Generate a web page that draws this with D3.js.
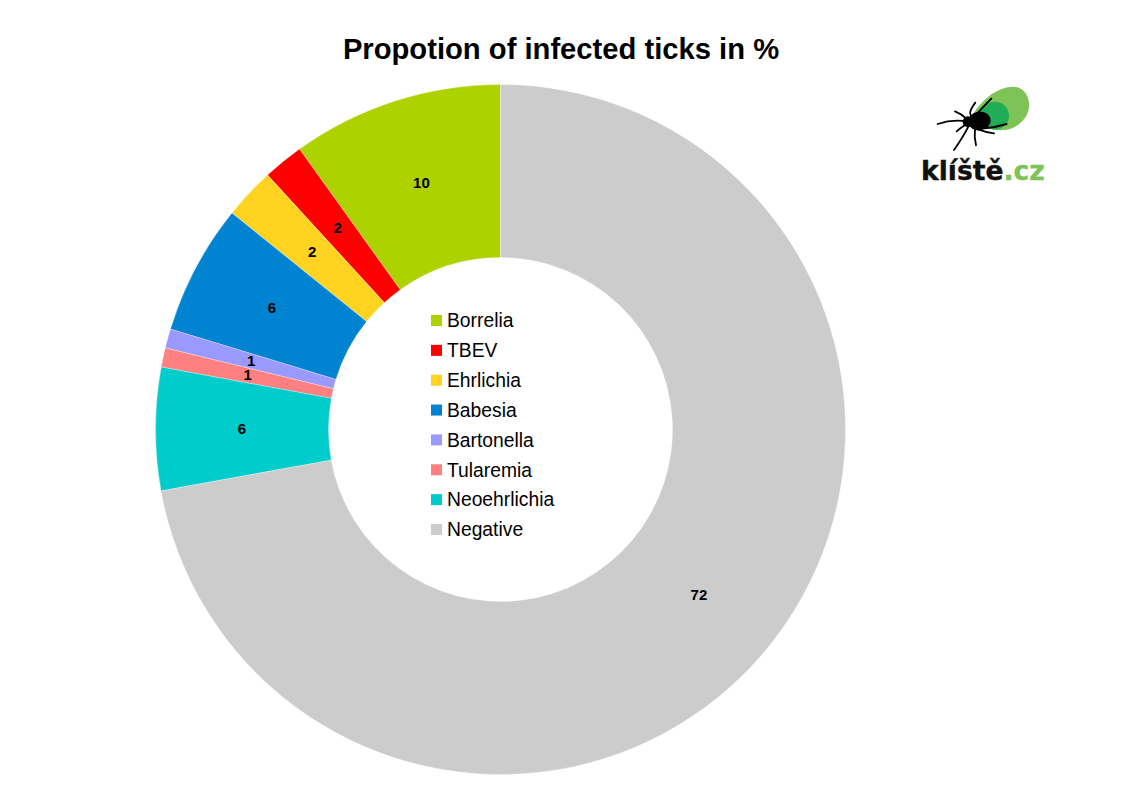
<!DOCTYPE html>
<html>
<head>
<meta charset="utf-8">
<script src="https://cdn.jsdelivr.net/npm/d3@7"></script>
<style>
  html, body { margin: 0; padding: 0; background: #fff; }
  svg { display: block; }
  text { font-family: "Liberation Sans", Arial, sans-serif; }
</style>
</head>
<body>
<div id="chart"></div>
<script>
const title = 'Propotion of infected ticks in %'
const categories = ['Borrelia', 'TBEV', 'Ehrlichia', 'Babesia', 'Bartonella', 'Tularemia', 'Neoehrlichia', 'Negative']
const values = [9.9, 1.9, 2.4, 6.1, 0.9, 0.9, 5.75, 72.15]
const colors = ['#aed100', '#ff0000', '#ffd320', '#0084d1', '#9999ff', '#ff8080', '#00cccc', '#cccccc']

const width = 1123
const height = 794
const centerX = 500.5
const centerY = 429.5
const outerRadius = 345
const innerRadius = 172

const svg = d3.select('#chart').append('svg')
  .attr('width', width)
  .attr('height', height)

svg.append('text')
  .attr('x', 561)
  .attr('y', 58.5)
  .attr('text-anchor', 'middle')
  .attr('font-size', 29.2)
  .attr('font-weight', 'bold')
  .text(title)

// slices run counter clockwise from 12 o'clock, first category on the left of the top
const pie = d3.pie()
  .sort(null)
  .startAngle(2 * Math.PI)
  .endAngle(0)
  .value(d => d.value)

const arc = d3.arc()
  .innerRadius(innerRadius)
  .outerRadius(outerRadius)

const rows = categories.map((name, i) => ({ name, value: values[i], color: colors[i] }))

const donut = svg.append('g')
  .attr('transform', `translate(${centerX},${centerY})`)

const slices = donut.selectAll('g.slice')
  .data(pie(rows))
  .join('g')
  .attr('class', 'slice')

slices.append('path')
  .attr('d', arc)
  .attr('fill', d => d.data.color)
  .attr('stroke', '#fff')
  .attr('stroke-opacity', 0.6)
  .attr('stroke-width', 0.5)

slices.append('text')
  .attr('transform', d => `translate(${arc.centroid(d)})`)
  .attr('text-anchor', 'middle')
  .attr('dy', '0.3em')
  .attr('font-size', 15)
  .attr('font-weight', 'bold')
  .text(d => d3.format('.0f')(d.data.value))

// legend sits in the hole of the donut
const legendY = d3.scalePoint()
  .domain(categories)
  .range([320.5, 529.5])

const legend = svg.selectAll('g.legend')
  .data(rows)
  .join('g')
  .attr('class', 'legend')
  .attr('transform', d => `translate(431,${legendY(d.name)})`)

legend.append('rect')
  .attr('y', -5.5)
  .attr('width', 11)
  .attr('height', 11)
  .attr('fill', d => d.color)

legend.append('text')
  .attr('x', 16)
  .attr('dy', '0.35em')
  .attr('font-size', 19.3)
  .text(d => d.name)

// logo, drawn in the coordinates of a 3x crop so the shapes are easy to compare
const logo = svg.append('g')
  .attr('transform', 'translate(900,70) scale(0.3333)')

logo.append('path')
  .attr('d', 'M222,128 C250,85 295,50 340,50 C372,50 390,80 387,112 C383,150 345,182 300,181 C285,180 270,178 255,170 Z')
  .attr('fill', '#7dc356')

logo.append('circle')
  .attr('cx', 285)
  .attr('cy', 137)
  .attr('r', 42)
  .attr('fill', '#1fae55')

logo.append('ellipse')
  .attr('cx', 238)
  .attr('cy', 153)
  .attr('rx', 34)
  .attr('ry', 28)
  .attr('transform', 'rotate(-8 238 153)')
  .attr('fill', '#000')

logo.append('circle')
  .attr('cx', 204)
  .attr('cy', 155)
  .attr('r', 16)
  .attr('fill', '#000')

const legs = [
  'M212,135 Q205,125 226,98',
  'M232,130 Q250,110 274,86',
  'M255,175 Q285,172 320,162',
  'M235,178 Q260,188 282,190',
  'M205,155 Q160,146 113,162',
  'M198,145 Q185,132 165,124',
  'M205,170 Q190,200 162,240',
  'M225,176 Q222,200 228,226',
  'M195,165 Q180,175 170,184'
]

logo.selectAll('path.leg')
  .data(legs)
  .join('path')
  .attr('class', 'leg')
  .attr('d', d => d)
  .attr('fill', 'none')
  .attr('stroke', '#000')
  .attr('stroke-width', 5.5)
  .attr('stroke-linecap', 'round')

const logoText = svg.append('text')
  .attr('x', 921)
  .attr('y', 179.5)
  .attr('font-size', 26.6)
  .attr('font-weight', 'bold')
  .style('font-family', '"DejaVu Sans", sans-serif')

logoText.append('tspan').attr('fill', '#111').attr('stroke', '#111').attr('stroke-width', 0.4).text('klíště')
logoText.append('tspan').attr('fill', '#7dc356').attr('stroke', '#7dc356').attr('stroke-width', 0.4).text('.cz')
</script>
</body>
</html>
